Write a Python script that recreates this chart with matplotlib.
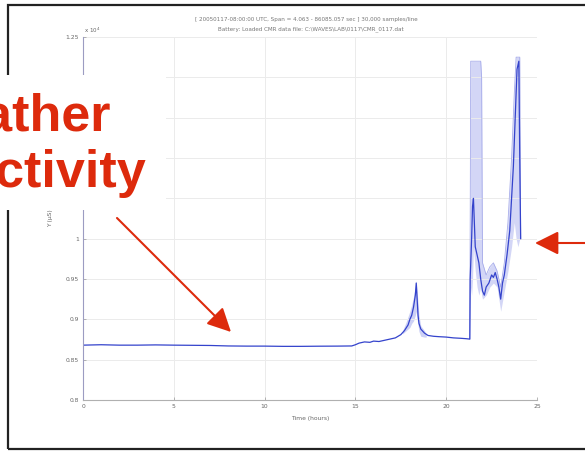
import matplotlib.pyplot as plt
from matplotlib.patches import Rectangle, FancyArrowPatch

# conductivity record over one day (hours, value x 10^4)
hours = [0, 1, 2, 3, 4, 5, 6, 7, 8, 9, 10, 11, 12, 13, 14, 14.8,
         15.0, 15.2, 15.5, 15.8, 16.0, 16.3, 16.6, 16.9, 17.2, 17.5, 17.7,
         17.9, 18.0, 18.1, 18.2, 18.3, 18.35, 18.4, 18.45, 18.5, 18.6, 18.8,
         19.0, 19.3, 19.6, 20.0, 20.4, 20.8, 21.1, 21.3,
         21.32, 21.4, 21.45, 21.5, 21.55, 21.6, 21.8, 21.9, 22.0, 22.1, 22.2,
         22.35, 22.5, 22.6, 22.7, 22.8, 22.9, 23.0, 23.1, 23.2, 23.35, 23.5,
         23.6, 23.7, 23.8, 23.9, 24.0, 24.05, 24.1]
values = [0.868, 0.8685, 0.868, 0.868, 0.8683, 0.868, 0.8678, 0.8676, 0.867,
          0.8668, 0.8668, 0.8665, 0.8665, 0.8667, 0.8668, 0.867,
          0.8685, 0.8705, 0.872, 0.8715, 0.873, 0.8725, 0.874, 0.8755, 0.877,
          0.881, 0.886, 0.893, 0.900, 0.905, 0.915, 0.930, 0.945, 0.925,
          0.905, 0.895, 0.888, 0.883, 0.880, 0.879, 0.8785, 0.878, 0.877,
          0.8765, 0.876, 0.8755,
          0.95, 1.0, 1.04, 1.05, 1.02, 0.99, 0.97, 0.95, 0.935, 0.93, 0.94,
          0.945, 0.955, 0.952, 0.958, 0.95, 0.94, 0.925, 0.945, 0.955, 0.98,
          1.01, 1.05, 1.09, 1.15, 1.21, 1.22, 1.10, 1.0]

# min/max spread of the noisy parts
peak_t = [17.6, 17.8, 18.0, 18.1, 18.2, 18.3, 18.35, 18.4, 18.5, 18.6, 18.8, 18.9]
peak_lo = [0.882, 0.886, 0.890, 0.895, 0.898, 0.905, 0.91, 0.90, 0.885, 0.879, 0.878, 0.878]
peak_hi = [0.886, 0.897, 0.910, 0.918, 0.928, 0.940, 0.948, 0.935, 0.905, 0.892, 0.886, 0.882]

tail_t = [21.3, 21.35, 21.4, 21.45, 21.5, 21.6, 21.7, 21.8, 21.9, 21.95, 22.0,
          22.2, 22.4, 22.6, 22.8, 23.0, 23.2, 23.4, 23.6, 23.75, 23.85, 23.95,
          24.05, 24.1]
tail_lo = [0.8755, 0.94, 0.93, 0.95, 0.99, 0.96, 0.94, 0.93, 0.94, 0.93, 0.925,
           0.93, 0.94, 0.945, 0.94, 0.91, 0.935, 0.96, 0.99, 1.02, 1.0, 0.99,
           1.0, 1.0]
tail_hi = [0.8755, 1.22, 1.22, 1.22, 1.22, 1.22, 1.22, 1.22, 1.22, 1.20, 0.97,
           0.955, 0.965, 0.97, 0.96, 0.94, 0.97, 1.02, 1.10, 1.18, 1.225, 1.225,
           1.225, 1.0]

x_ticks = [0, 5, 10, 15, 20, 25]
y_ticks = [0.8, 0.85, 0.9, 0.95, 1.0, 1.05, 1.1, 1.15, 1.2, 1.25]
# labels 1.05 - 1.2 sit under the callout box
y_labels = ["0.8", "0.85", "0.9", "0.95", "1", "", "", "", "", "1.25"]

W, H = 585, 453
fig = plt.figure(figsize=(W / 100, H / 100), dpi=100)
fig.patch.set_facecolor("white")

ax = fig.add_axes([83 / W, 1 - 400 / H, (537 - 83) / W, (400 - 37) / H])
ax.fill_between(peak_t, peak_lo, peak_hi, color="#cdd1f5", lw=0)
ax.fill_between(tail_t, tail_lo, tail_hi, color="#d3d6f6", lw=0)
ax.plot(tail_t, tail_hi, color="#a7acea", lw=0.6)
ax.plot(hours, values, color="#3443cc", lw=0.9)

ax.set_xlim(0, 25)
ax.set_ylim(0.8, 1.25)
ax.set_xticks(x_ticks)
ax.set_yticks(y_ticks)
ax.set_yticklabels(y_labels)
ax.grid(True, color="#ebebeb", lw=0.7)
ax.tick_params(direction="in", length=2, width=0.5, labelsize=4.3,
               labelcolor="#666666", color="#999999", pad=3)
for side in ("top", "right"):
    ax.spines[side].set_visible(False)
ax.spines["left"].set_color("#9c9cc2")
ax.spines["bottom"].set_color("#b0b0b0")
ax.set_xlabel("Time (hours)", fontsize=4.3, color="#666666", labelpad=5)
ax.set_ylabel("Y (μS)", fontsize=4.3, color="#666666", labelpad=9)

fig.text(92 / W, 1 - 30 / H, "x 10$^{4}$", fontsize=4, color="#666666",
         ha="center", va="center")
fig.text(306 / W, 1 - 20 / H,
         "[ 20050117-08:00:00 UTC, Span = 4.063 - 86085.057 sec ] 30,000 samples/line",
         fontsize=4.1, color="#777777", ha="center", va="center")
fig.text(311 / W, 1 - 29 / H,
         "Battery: Loaded CMR data file: C:\\WAVES\\LAB\\0117\\CMR_0117.dat",
         fontsize=4.1, color="#777777", ha="center", va="center")

# slide frame and callout
fig.add_artist(Rectangle((8 / W, 1 - 449 / H), 1.1, (449 - 5) / H,
                         transform=fig.transFigure, fill=False,
                         edgecolor="#222222", lw=1.6))
fig.add_artist(Rectangle((0, 1 - 210 / H), 166 / W, (210 - 75) / H,
                         transform=fig.transFigure, facecolor="white",
                         edgecolor="none", zorder=2))

red = "#dd2a0c"
fig.text(111 / W, 1 - 131 / H, "Weather", ha="right", va="baseline",
         fontsize=37.5, fontweight="bold", color=red, zorder=3,
         family=["Liberation Sans Narrow", "Liberation Sans"])
fig.text(146 / W, 1 - 187 / H, "conductivity", ha="right", va="baseline",
         fontsize=37.5, fontweight="bold", color=red, zorder=3,
         family=["Liberation Sans Narrow", "Liberation Sans"])

for start, end in [((117, 218), (231, 332)), ((600, 243), (535, 243))]:
    fig.add_artist(FancyArrowPatch(
        (start[0] / W, 1 - start[1] / H), (end[0] / W, 1 - end[1] / H),
        transform=fig.transFigure, arrowstyle="-|>,head_length=0.4,head_width=0.2",
        mutation_scale=36, color=red, lw=1.5, shrinkA=0, shrinkB=0, zorder=4))

fig.savefig("out.png", dpi=100)
